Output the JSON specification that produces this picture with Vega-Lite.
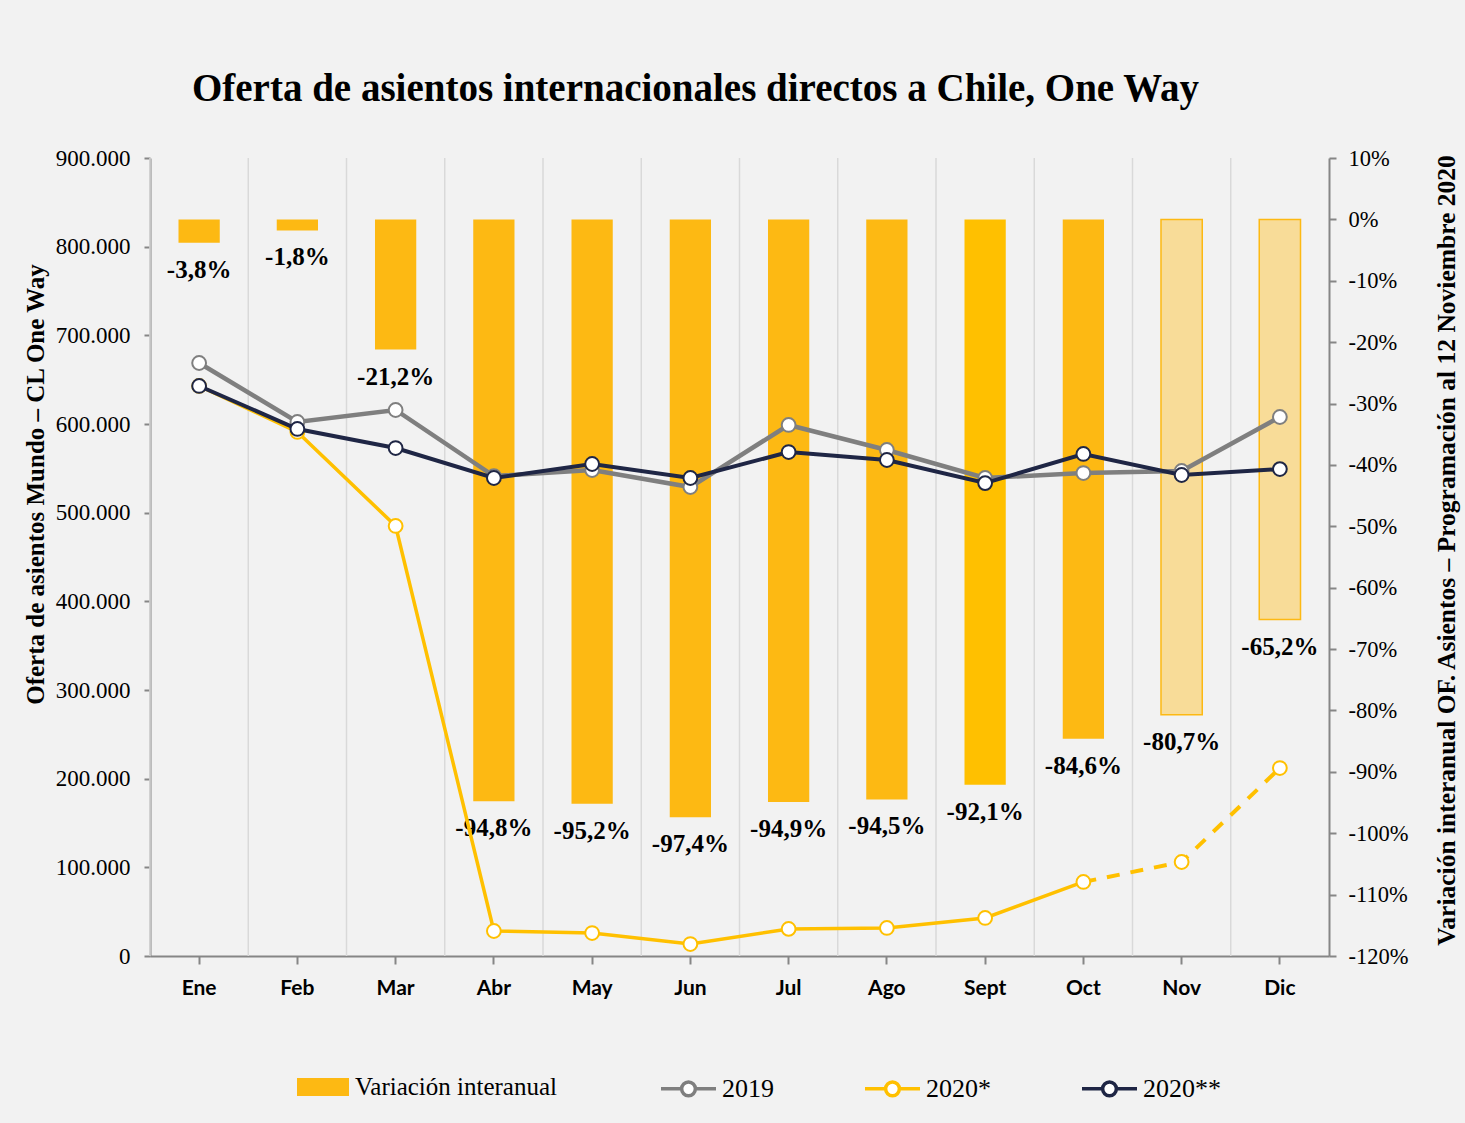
{
  "$schema": "https://vega.github.io/schema/vega-lite/v6.json",
  "width": 1179,
  "height": 798,
  "autosize": {"type": "none"},
  "padding": {"left": 150, "top": 158, "right": 136, "bottom": 167},
  "background": "#f2f2f2",
  "title": {
    "text": "Oferta de asientos internacionales directos a Chile, One Way",
    "font": "Liberation Serif",
    "fontSize": 39,
    "fontWeight": "bold",
    "color": "#000000",
    "anchor": "middle",
    "dx": -44,
    "offset": 38
  },
  "config": {
    "view": {"stroke": null},
    "locale": {"number": {"decimal": ",", "thousands": ".", "grouping": [3], "currency": ["", ""], "minus": "-"}},
    "axis": {
      "domainColor": "#868686",
      "domainWidth": 2,
      "tickColor": "#868686",
      "tickWidth": 2,
      "grid": false,
      "labelColor": "#000000",
      "titleColor": "#000000"
    }
  },
  "data": {
    "values": [
      {"mes": "Ene", "var": -0.038, "estado": "real", "s2019": 668800, "s2020a": 642900, "s2020b": 642900},
      {"mes": "Feb", "var": -0.018, "estado": "real", "s2019": 602300, "s2020a": 591000, "s2020b": 594400},
      {"mes": "Mar", "var": -0.212, "estado": "real", "s2019": 615800, "s2020a": 485000, "s2020b": 572900},
      {"mes": "Abr", "var": -0.948, "estado": "real", "s2019": 541300, "s2020a": 28200, "s2020b": 539100},
      {"mes": "May", "var": -0.952, "estado": "real", "s2019": 548100, "s2020a": 25900, "s2020b": 554900},
      {"mes": "Jun", "var": -0.974, "estado": "real", "s2019": 528900, "s2020a": 13500, "s2020b": 539100},
      {"mes": "Jul", "var": -0.949, "estado": "real", "s2019": 598900, "s2020a": 30500, "s2020b": 568400},
      {"mes": "Ago", "var": -0.945, "estado": "real", "s2019": 570700, "s2020a": 31600, "s2020b": 559400},
      {"mes": "Sept", "var": -0.921, "estado": "real", "s2019": 539100, "s2020a": 42900, "s2020b": 533400},
      {"mes": "Oct", "var": -0.846, "estado": "real", "s2019": 544700, "s2020a": 83500, "s2020b": 566200},
      {"mes": "Nov", "var": -0.807, "estado": "proyectado", "s2019": 547000, "s2020a": 106000, "s2020b": 542500},
      {"mes": "Dic", "var": -0.652, "estado": "proyectado", "s2019": 607900, "s2020a": 212000, "s2020b": 549200}
    ]
  },
  "encoding": {
    "x": {
      "field": "mes",
      "type": "nominal",
      "sort": ["Ene", "Feb", "Mar", "Abr", "May", "Jun", "Jul", "Ago", "Sept", "Oct", "Nov", "Dic"],
      "scale": {"domain": ["Ene", "Feb", "Mar", "Abr", "May", "Jun", "Jul", "Ago", "Sept", "Oct", "Nov", "Dic"], "paddingInner": 0, "paddingOuter": 0},
      "axis": {
        "title": null,
        "labelFont": "Lato",
        "labelFontSize": 21,
        "labelFontWeight": "bold",
        "labelColor": "#000000",
        "labelAngle": 0,
        "tickSize": 8,
        "labelPadding": 13
      }
    }
  },
  "layer": [
    {
      "mark": {"type": "rule", "color": "#d9d9d9", "strokeWidth": 1.5},
      "encoding": {
        "x": {
          "field": "mes",
          "type": "nominal",
          "bandPosition": 0,
          "sort": ["Ene", "Feb", "Mar", "Abr", "May", "Jun", "Jul", "Ago", "Sept", "Oct", "Nov", "Dic"],
          "scale": {"domain": ["Ene", "Feb", "Mar", "Abr", "May", "Jun", "Jul", "Ago", "Sept", "Oct", "Nov", "Dic"], "paddingInner": 0, "paddingOuter": 0},
          "axis": {
            "title": null,
            "labelFont": "Lato",
            "labelFontSize": 21,
            "labelFontWeight": "bold",
            "labelColor": "#000000",
            "labelAngle": 0,
            "tickSize": 8,
            "labelPadding": 13
          }
        }
      }
    },
    {
      "layer": [
        {
          "mark": {"type": "bar", "width": {"band": 0.42}, "strokeWidth": 1.5},
          "encoding": {
            "y": {
              "field": "var",
              "type": "quantitative",
              "scale": {"domain": [-1.2, 0.1], "nice": false, "zero": false},
              "axis": {
                "orient": "right",
                "title": "Variación interanual OF. Asientos  – Programación al 12 Noviembre 2020",
                "values": [0.1, 0, -0.1, -0.2, -0.3, -0.4, -0.5, -0.6, -0.7, -0.8, -0.9, -1, -1.1, -1.2],
                "format": ".0%",
                "labelFont": "Liberation Serif",
                "labelFontSize": 22.5,
                "labelPadding": 12,
                "tickSize": 7,
                "titleFont": "Liberation Serif",
                "titleFontSize": 25.5,
                "titleFontWeight": "bold",
                "titleAngle": 270,
                "titleX": 117,
                "titleY": 392,
                "titleBaseline": "middle",
                "titleAlign": "center"
              }
            },
            "y2": {"datum": 0},
            "fill": {
              "condition": {"test": "datum.mes === 'Sept'", "value": "#FFC000"},
              "field": "estado",
              "type": "nominal",
              "scale": {"domain": ["real", "proyectado"], "range": ["#FDB913", "#F8DC98"]},
              "legend": {
                "title": null,
                "values": ["real"],
                "labelExpr": "'Variación interanual'",
                "orient": "none",
                "legendX": 147,
                "legendY": 903,
                "direction": "horizontal",
                "symbolType": "M-1,-0.35L1,-0.35L1,0.35L-1,0.35Z",
                "symbolSize": 2704,
                "symbolStrokeWidth": 0,
                "labelFont": "Liberation Serif",
                "labelFontSize": 25,
                "labelLimit": 500,
                "labelColor": "#000000",
                "labelOffset": 6,
                "padding": 0
              }
            },
            "stroke": {
              "condition": {"test": "datum.estado === 'proyectado'", "value": "#FDB913"},
              "value": "transparent"
            }
          }
        },
        {
          "mark": {"type": "text", "font": "Liberation Serif", "fontSize": 25, "fontWeight": "bold", "baseline": "middle", "dy": 27, "color": "#000000"},
          "encoding": {
            "y": {"field": "var", "type": "quantitative"},
            "text": {"field": "var", "type": "quantitative", "format": ".1%"}
          }
        }
      ]
    },
    {
      "layer": [
        {
          "transform": [{"filter": "datum.estado === 'real'"}],
          "mark": {"type": "line", "strokeWidth": 3.5},
          "encoding": {
            "y": {
              "field": "s2020a",
              "type": "quantitative",
              "scale": {"domain": [0, 900000], "nice": false},
              "axis": {
                "orient": "left",
                "title": "Oferta de asientos Mundo – CL  One Way",
                "values": [0, 100000, 200000, 300000, 400000, 500000, 600000, 700000, 800000, 900000],
                "format": ",d",
                "labelFont": "Liberation Serif",
                "labelFontSize": 23,
                "labelPadding": 14,
                "tickSize": 6,
                "titleFont": "Liberation Serif",
                "titleFontSize": 25,
                "titleFontWeight": "bold",
                "titleAngle": 270,
                "titleX": -115,
                "titleY": 326,
                "titleBaseline": "middle",
                "titleAlign": "center"
              }
            },
            "stroke": {
              "datum": "2020*",
              "type": "nominal",
              "scale": {"domain": ["2019", "2020*", "2020**"], "range": ["#7f7f7f", "#FFC000", "#1F2645"]},
              "legend": {
                "title": null,
                "orient": "none",
                "legendX": 509,
                "legendY": 901,
                "direction": "horizontal",
                "symbolType": "M-1,0L-0.25,0M0.25,0L1,0M-0.25,0A0.25,0.25,0,1,0,0.25,0A0.25,0.25,0,1,0,-0.25,0Z",
                "symbolSize": 3025,
                "symbolStrokeWidth": 3.5,
                "symbolFillColor": "white",
                "labelFont": "Liberation Serif",
                "labelFontSize": 26,
                "labelLimit": 500,
                "labelColor": "#000000",
                "labelOffset": 4,
                "columnPadding": 84,
                "padding": 0
              }
            }
          }
        },
        {
          "transform": [{"filter": "datum.estado === 'proyectado' || datum.mes === 'Oct'"}],
          "mark": {"type": "line", "strokeWidth": 4, "strokeDash": [13, 11]},
          "encoding": {
            "y": {"field": "s2020a", "type": "quantitative"},
            "stroke": {"datum": "2020*", "type": "nominal"}
          }
        },
        {
          "mark": {"type": "point", "filled": true, "fill": "white", "size": 190, "strokeWidth": 2, "opacity": 1},
          "encoding": {
            "y": {"field": "s2020a", "type": "quantitative"},
            "stroke": {"datum": "2020*", "type": "nominal"}
          }
        },
        {
          "mark": {"type": "line", "strokeWidth": 4.5},
          "encoding": {
            "y": {"field": "s2019", "type": "quantitative"},
            "stroke": {"datum": "2019", "type": "nominal"}
          }
        },
        {
          "mark": {"type": "point", "filled": true, "fill": "white", "size": 190, "strokeWidth": 2, "opacity": 1},
          "encoding": {
            "y": {"field": "s2019", "type": "quantitative"},
            "stroke": {"datum": "2019", "type": "nominal"}
          }
        },
        {
          "mark": {"type": "line", "strokeWidth": 4},
          "encoding": {
            "y": {"field": "s2020b", "type": "quantitative"},
            "stroke": {"datum": "2020**", "type": "nominal"}
          }
        },
        {
          "mark": {"type": "point", "filled": true, "fill": "white", "size": 190, "strokeWidth": 2, "opacity": 1},
          "encoding": {
            "y": {"field": "s2020b", "type": "quantitative"},
            "stroke": {"datum": "2020**", "type": "nominal"}
          }
        }
      ]
    }
  ],
  "resolve": {"scale": {"y": "independent"}}
}
